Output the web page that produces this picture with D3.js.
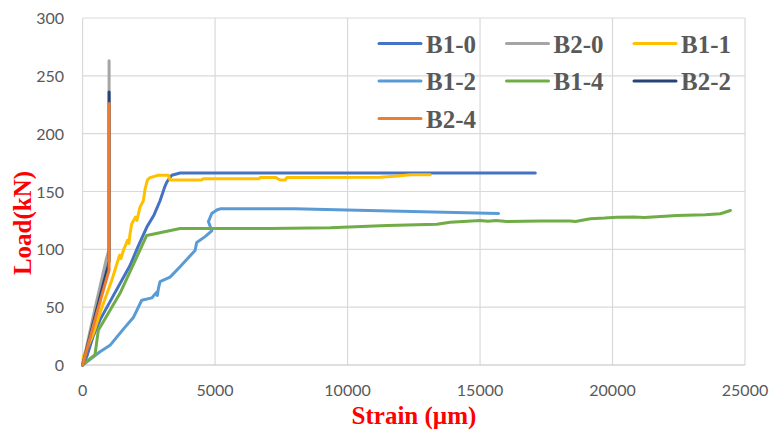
<!DOCTYPE html>
<html>
<head>
<meta charset="utf-8">
<script src="https://cdn.jsdelivr.net/npm/d3@7"></script>
<style>
  body { margin: 0; background: #fff; }
</style>
</head>
<body>
<div id="main"></div>
<script>
const ctx = {
    w: 771,
    h: 431,
};

// series names, in Excel drawing order
const seriesNames = ["B1-0", "B2-0", "B1-1", "B1-2", "B1-4", "B2-2", "B2-4"];
const seriesColors = ["#4472c4", "#a5a5a5", "#ffc000", "#5b9bd5", "#70ad47", "#264478", "#ed7d31"];

const xTicks = [0, 5000, 10000, 15000, 20000, 25000];
const yTicks = [0, 50, 100, 150, 200, 250, 300];

// [strain, load]
const b1_0 = [[0, 0], [155, 7], [400, 25], [657, 39], [1160, 60], [1790, 86], [2104, 103], [2420, 119],
    [2700, 130], [2923, 142], [3100, 154], [3175, 158], [3364, 164], [3678, 166], [8000, 166],
    [16000, 166], [17085, 166]];
const b2_0 = [[0, 0], [200, 21], [500, 52], [900, 92], [1000, 100], [1000, 263]];
const b1_1 = [[0, 0], [25, 7], [404, 27], [700, 48], [1099, 73], [1300, 88], [1400, 95], [1450, 92],
    [1538, 99], [1700, 108], [1750, 105], [1790, 113.5], [1853, 122], [2000, 128], [2050, 125],
    [2168, 136.5], [2292, 142], [2357, 152], [2450, 160], [2545, 162], [2860, 164], [3237, 164],
    [3300, 160], [4500, 160], [4550, 161], [6650, 161], [6700, 162], [7300, 162], [7455, 160],
    [7650, 160], [7708, 162], [11231, 162.3], [11900, 163.5], [12364, 164.4], [13119, 164.4]];
const b1_2 = [[0, 0], [657, 11.5], [1035, 17], [1538, 31], [1915, 41], [2231, 56], [2609, 58], [2797, 63],
    [2820, 60], [2860, 66], [2923, 72], [3300, 76], [3678, 85], [4244, 99], [4307, 106], [4622, 111],
    [4875, 116], [4748, 124], [4875, 131], [5064, 134], [5190, 135], [8000, 135], [9970, 134],
    [15698, 131]];
const b1_4 = [[0, 0], [468, 9], [593, 30], [1412, 62], [2420, 112], [3678, 118], [7080, 118],
    [9347, 118.7], [11484, 120.7], [13372, 121.6], [13875, 123.5], [15008, 125], [15300, 124.2],
    [15600, 125], [16000, 124], [17273, 124.4], [18406, 124.4], [18600, 124], [19161, 126.4],
    [19700, 127], [20170, 127.8], [20800, 128], [21200, 127.6], [22436, 129.3], [23500, 130],
    [24071, 130.8], [24448, 133.6]];
const b2_2 = [[0, 0], [400, 36], [950, 85], [1000, 90], [1000, 236]];
const b2_4 = [[0, 0], [300, 25], [700, 58], [1000, 82], [1000, 226]];

const seriesData = [b1_0, b2_0, b1_1, b1_2, b1_4, b2_2, b2_4];

function createChart(svgEl) {
    const plot = {left: 82.6, right: 745, top: 18, bottom: 365};

    const xScale = d3.scaleLinear()
                     .domain([0, 25000])
                     .range([plot.left, plot.right]);
    const yScale = d3.scaleLinear()
                     .domain([0, 300])
                     .range([plot.bottom, plot.top]);

    // gridlines
    svgEl.append("g")
         .selectAll("line")
         .data(yTicks.slice(1))
         .enter().append("line")
         .attr("x1", plot.left).attr("x2", plot.right)
         .attr("y1", d => yScale(d)).attr("y2", d => yScale(d))
         .attr("stroke", "#d9d9d9").attr("stroke-width", 1.2);
    svgEl.append("g")
         .selectAll("line")
         .data(xTicks)
         .enter().append("line")
         .attr("x1", d => xScale(d)).attr("x2", d => xScale(d))
         .attr("y1", plot.top).attr("y2", plot.bottom)
         .attr("stroke", "#d9d9d9").attr("stroke-width", 1.2);

    // bottom axis line
    svgEl.append("line")
         .attr("x1", plot.left).attr("x2", plot.right)
         .attr("y1", plot.bottom).attr("y2", plot.bottom)
         .attr("stroke", "#bfbfbf").attr("stroke-width", 1.2);

    // tick labels
    svgEl.append("g")
         .selectAll("text")
         .data(yTicks)
         .enter().append("text")
         .attr("x", 64)
         .attr("y", d => yScale(d) + 6)
         .attr("text-anchor", "end")
         .style("font-family", "Lato, 'Liberation Sans', sans-serif")
         .style("font-size", "16px")
         .style("fill", "#595959")
         .text(d => d);
    svgEl.append("g")
         .selectAll("text")
         .data(xTicks)
         .enter().append("text")
         .attr("x", d => xScale(d))
         .attr("y", 396)
         .attr("text-anchor", "middle")
         .style("font-family", "Lato, 'Liberation Sans', sans-serif")
         .style("font-size", "16px")
         .style("fill", "#595959")
         .text(d => d);

    // curves
    const line = d3.line()
                   .x(d => xScale(d[0]))
                   .y(d => yScale(d[1]));
    svgEl.append("g")
         .selectAll("path")
         .data(seriesData)
         .enter().append("path")
         .attr("d", line)
         .attr("fill", "none")
         .attr("stroke", (d, i) => seriesColors[i])
         .attr("stroke-width", 3)
         .attr("stroke-linejoin", "round")
         .attr("stroke-linecap", "round");

    // legend, 3 columns
    const legend = svgEl.append("g");
    seriesNames.forEach((name, i) => {
        const col = i % 3, row = Math.floor(i / 3);
        const row_g = legend.append("g")
                            .attr("transform", `translate(${379 + col * 127.5}, ${43.5 + row * 37.5})`);
        row_g.append("line")
             .attr("x1", 0).attr("x2", 42)
             .attr("y1", 0).attr("y2", 0)
             .attr("stroke", seriesColors[i])
             .attr("stroke-width", 3)
             .attr("stroke-linecap", "round");
        row_g.append("text")
             .attr("x", 47)
             .attr("y", 9)
             .style("font-family", "'Liberation Serif', 'Times New Roman', serif")
             .style("font-weight", "bold")
             .style("font-size", "25px")
             .style("fill", "#595959")
             .text(name);
    });

    // axis titles
    svgEl.append("text")
         .attr("transform", "translate(31, 223) rotate(-90)")
         .attr("text-anchor", "middle")
         .style("font-family", "'Liberation Serif', 'Times New Roman', serif")
         .style("font-weight", "bold")
         .style("font-size", "25px")
         .style("fill", "#ff0000")
         .text("Load(kN)");
    svgEl.append("text")
         .attr("x", 414)
         .attr("y", 424)
         .attr("text-anchor", "middle")
         .style("font-family", "'Liberation Serif', 'Times New Roman', serif")
         .style("font-weight", "bold")
         .style("font-size", "25px")
         .style("fill", "#ff0000")
         .text("Strain (\u00b5m)");
}

function createViz() {
    const svgEl = d3.select("#main").append("svg")
      .attr("width", ctx.w)
      .attr("height", ctx.h);
    createChart(svgEl);
}

createViz();
</script>
</body>
</html>
